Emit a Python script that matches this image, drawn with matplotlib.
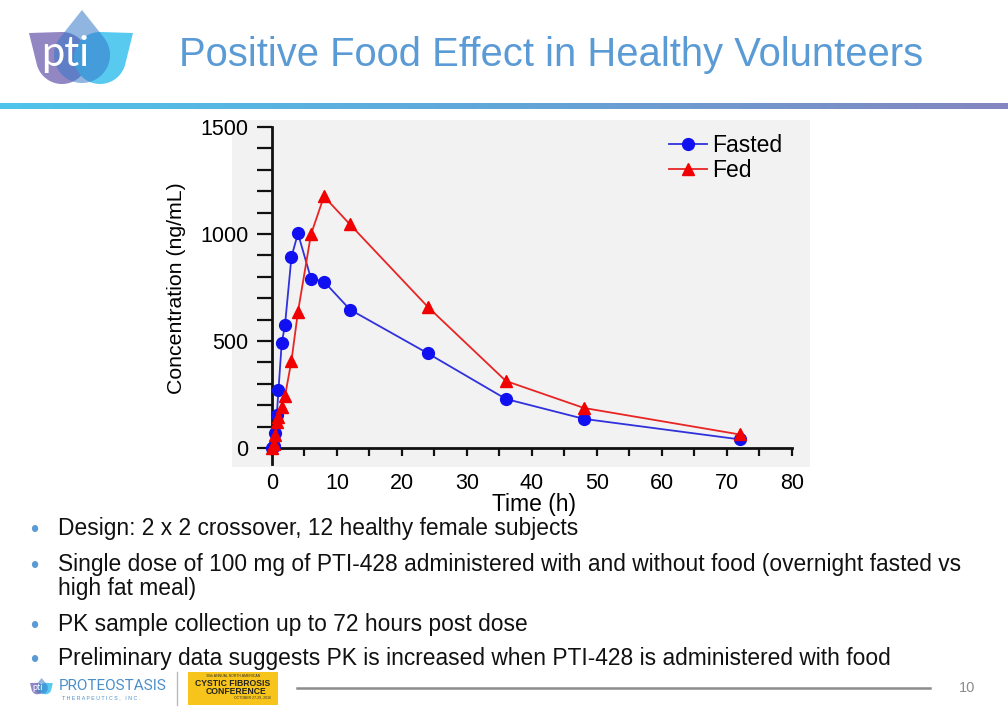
import numpy as np
import matplotlib
matplotlib.use("Agg")
import matplotlib.pyplot as plt
from matplotlib.patches import Polygon, Rectangle
from matplotlib.lines import Line2D
from matplotlib.colors import LinearSegmentedColormap

plt.rcParams['font.family'] = ['Liberation Sans', 'DejaVu Sans']

# ---------------- data ----------------
title = "Positive Food Effect in Healthy Volunteers"
fasted_time = [0, 0.25, 0.5, 0.75, 1, 1.5, 2, 3, 4, 6, 8, 12, 24, 36, 48, 72]
fasted_conc = [0, 8, 70, 155, 270, 490, 573, 893, 1003, 792, 778, 647, 442, 229, 136, 40]
fed_time = [0, 0.25, 0.5, 0.75, 1, 1.5, 2, 3, 4, 6, 8, 12, 24, 36, 48, 72]
fed_conc = [0, 20, 60, 120, 145, 190, 241, 408, 636, 998, 1176, 1045, 659, 313, 187, 63]
x_ticks = [0, 10, 20, 30, 40, 50, 60, 70, 80]
y_ticks = [0, 500, 1000, 1500]
bullets = [
    ["Design: 2 x 2 crossover, 12 healthy female subjects"],
    ["Single dose of 100 mg of PTI-428 administered with and without food (overnight fasted vs",
     "high fat meal)"],
    ["PK sample collection up to 72 hours post dose"],
    ["Preliminary data suggests PK is increased when PTI-428 is administered with food"],
]
page_number = "10"

W, H = 1008, 720
fig = plt.figure(figsize=(W / 100, H / 100), dpi=100)
fig.patch.set_facecolor('white')


def fx(px):
    return px / W


def fy(py):
    return 1 - py / H


# overlay axes in pixel coordinates (for logo shapes)
ov = fig.add_axes([0, 0, 1, 1], zorder=5)
ov.set_xlim(0, W)
ov.set_ylim(H, 0)
ov.axis('off')
ov.patch.set_alpha(0)

# ---------------- header band ----------------
band = fig.add_axes([0, fy(109), 1, 6 / H])
grad = np.linspace(0, 1, 256).reshape(1, -1)
cm = LinearSegmentedColormap.from_list('band', ['#4FC4EA', '#62A6D8', '#8486C0'])
band.imshow(grad, aspect='auto', cmap=cm, extent=[0, 1, 0, 1])
band.axis('off')

fig.text(fx(551), fy(55), title, color='#5B9BD5', fontsize=28.8, ha='center', va='center')


# ---------------- logo helper ----------------
def teardrop(cx, cy, r, tx, ty, n=80):
    d = np.hypot(tx - cx, ty - cy)
    phi = np.arctan2(ty - cy, tx - cx)
    a = np.arccos(r / d)
    ts = np.linspace(phi + a, phi + 2 * np.pi - a, n)
    pts = [(tx, ty)] + [(cx + r * np.cos(t), cy + r * np.sin(t)) for t in ts]
    return np.array(pts)


def draw_logo(ox, oy, s, fs):
    def tr(p):
        return np.column_stack([ox + p[:, 0] * s, oy + p[:, 1] * s])
    left = teardrop(62, 58, 26, 29, 33)
    right = teardrop(100, 58, 26, 133, 33)
    center = teardrop(82, 55, 28, 82, 10)
    ov.add_patch(Polygon(tr(left), closed=True, fc='#8C80C0', ec='none', alpha=0.95))
    ov.add_patch(Polygon(tr(right), closed=True, fc='#4FC8F0', ec='none', alpha=0.95))
    ov.add_patch(Polygon(tr(center), closed=True, fc='#3578C8', ec='none', alpha=0.55))
    ov.text(ox + 65 * s, oy + 54 * s, 'pti', color='white', fontsize=fs, ha='center', va='center',
            family=['Lato', 'DejaVu Sans'])


draw_logo(0, 0, 1.0, 30)

# ---------------- chart ----------------
ax = fig.add_axes([fx(232), fy(467), 578 / W, 347 / H])
ax.set_facecolor('#F2F2F2')
ax.set_xlim(-6.15, 82.8)
ax.set_ylim(-89, 1533)

ax.plot(fasted_time, fasted_conc, color='#3030DD', lw=1.3, marker='o', ms=8.5,
        mfc='#1010F0', mec='#1010F0', label='Fasted', zorder=3)
ax.plot(fed_time, fed_conc, color='#E82424', lw=1.3, marker='^', ms=8.5,
        mfc='#F00000', mec='#F00000', label='Fed', zorder=3)

for s in ['top', 'right']:
    ax.spines[s].set_visible(False)
ax.spines['left'].set_position(('data', 0))
ax.spines['bottom'].set_position(('data', 0))
ax.spines['left'].set_bounds(-75, 1500)
ax.spines['bottom'].set_bounds(0, 80)
for s in ['left', 'bottom']:
    ax.spines[s].set_linewidth(2)
    ax.spines[s].set_color('#111111')

ax.set_xticks(x_ticks)
ax.set_xticks(np.arange(0, 81, 5), minor=True)
ax.set_yticks(y_ticks)
ax.set_yticks(np.arange(0, 1501, 100), minor=True)
ax.tick_params(axis='x', which='both', direction='out', length=6, width=1.6, color='#111111')
ax.tick_params(axis='y', which='both', direction='out', length=11, width=1.6, color='#111111')
ax.tick_params(axis='x', which='major', labelsize=15.5, pad=12)
ax.tick_params(axis='y', which='major', labelsize=15.5, pad=6)

fig.text(fx(534), fy(505), 'Time (h)', fontsize=16.5, ha='center', va='center')
fig.text(fx(176), fy(288), 'Concentration (ng/mL)', fontsize=15.3, ha='center', va='center',
         rotation=90)

leg = ax.legend(loc='upper right', bbox_to_anchor=(0.975, 0.999), frameon=False, fontsize=16.5,
                handlelength=1.65, handletextpad=0.22, labelspacing=0.08, borderaxespad=0.2)

# ---------------- bullets ----------------
bullet_y = [528, 564, 624, 658]
for yy, lines in zip(bullet_y, bullets):
    fig.text(fx(34), fy(yy + 3), '\u2022', color='#5B9BD5', fontsize=17, ha='center', va='center')
    for k, line in enumerate(lines):
        fig.text(fx(58), fy(yy + 24 * k), line, color='#111111', fontsize=16.4,
                 ha='left', va='center')

# ---------------- footer ----------------
draw_logo(23.6, 675.8, 0.22, 6.5)
fig.text(fx(59), fy(686), 'PROTEOSTASIS', color='#4A8FCB', fontsize=11, ha='left', va='center',
         family=['Roboto', 'DejaVu Sans'])
fig.text(fx(62), fy(698), 'T H E R A P E U T I C S ,   I N C .', color='#4A8FCB', fontsize=3.8,
         ha='left', va='center')
fig.add_artist(Line2D([fx(177), fx(177)], [fy(672), fy(705)], color='#BBBBBB', lw=1))
fig.add_artist(Rectangle((fx(188), fy(705)), 90 / W, 33 / H, fc='#F6C41A', ec='none'))
fig.text(fx(233), fy(676), '30th ANNUAL NORTH AMERICAN', fontsize=2.5, color='#333333', ha='center', va='center')
fig.text(fx(233), fy(684), 'CYSTIC FIBROSIS', fontsize=6.2, fontweight='bold', color='#222222',
         ha='center', va='center')
fig.text(fx(236), fy(692), 'CONFERENCE', fontsize=6.2, fontweight='bold', color='#222222',
         ha='center', va='center')
fig.text(fx(252), fy(698), 'OCTOBER 27-29, 2016', fontsize=2.5, color='#333333', ha='center', va='center')
fig.add_artist(Line2D([fx(297), fx(930)], [fy(688), fy(688)], color='#8C8C8C', lw=1.8))
fig.text(fx(967), fy(688), page_number, color='#8C8C8C', fontsize=10.5, ha='center', va='center')

fig.savefig('out.png', dpi=100, facecolor='white')
